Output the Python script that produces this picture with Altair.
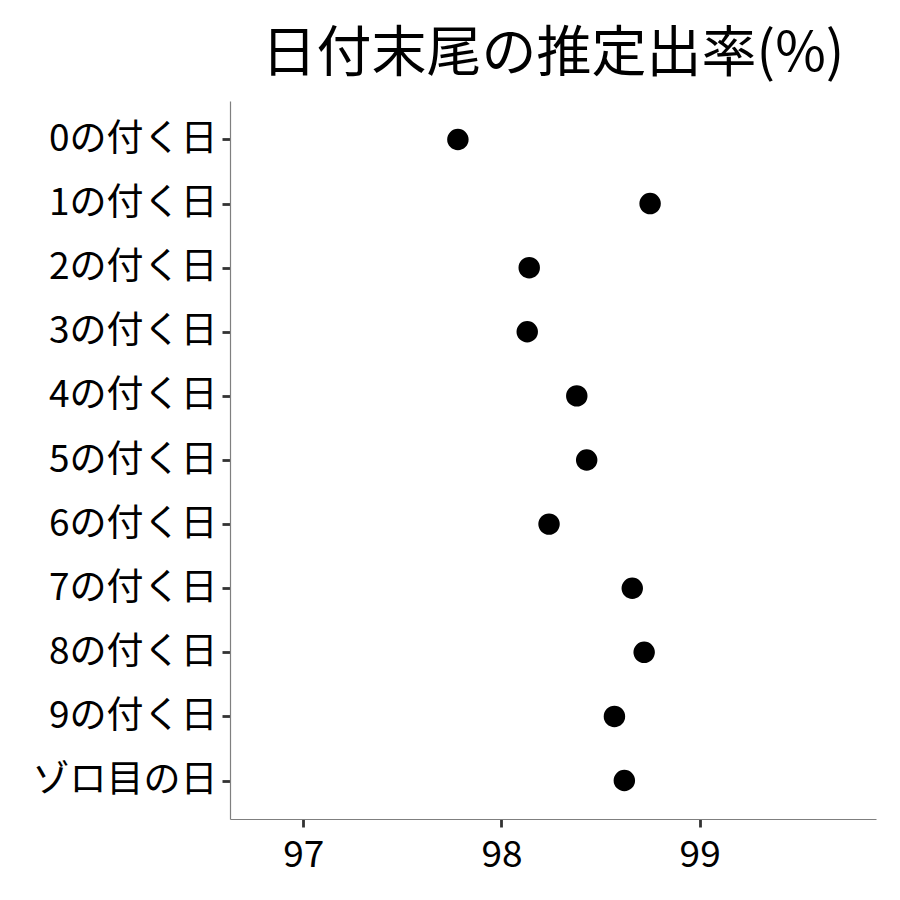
import altair as alt
import pandas as pd

categories = ["0の付く日", "1の付く日", "2の付く日", "3の付く日", "4の付く日",
              "5の付く日", "6の付く日", "7の付く日", "8の付く日", "9の付く日", "ゾロ目の日"]
rates = [97.78, 98.75, 98.14, 98.13, 98.38, 98.43, 98.24, 98.66, 98.72, 98.57, 98.62]
x_ticks = [97, 98, 99]

df = pd.DataFrame({"cat": categories, "rate": rates})

FONT = "Noto Sans CJK JP"

chart = alt.Chart(df).mark_circle(size=460, color="black", opacity=1).encode(
    x=alt.X("rate:Q",
            scale=alt.Scale(domain=[96.63, 99.89], nice=False, zero=False),
            axis=alt.Axis(title=None, values=x_ticks, grid=False, labelFontSize=37,
                          labelColor="black", labelFont=FONT, tickColor="#333333",
                          tickWidth=2.8, tickSize=8, domainColor="#7f7f7f",
                          domainWidth=1.2, labelPadding=10, format="d")),
    y=alt.Y("cat:N", sort=categories,
            scale=alt.Scale(type="point", padding=0.6),
            axis=alt.Axis(title=None, grid=False, labelFontSize=37, labelColor="black",
                          labelFont=FONT, tickColor="#333333", tickWidth=2.8, tickSize=8,
                          domainColor="#7f7f7f", domainWidth=1.2, labelPadding=5,
                          labelLimit=400)),
).properties(
    width=646, height=718,
    title=alt.TitleParams("日付末尾の推定出率(%)", fontSize=55, font=FONT,
                          fontWeight="normal", color="black", anchor="middle", offset=18),
    autosize=alt.AutoSizeParams(type="none"),
    padding={"left": 222, "top": 93, "right": 10, "bottom": 60},
).configure_view(stroke=None)

chart.save("out.html", embed_options={"renderer": "svg", "actions": False})
